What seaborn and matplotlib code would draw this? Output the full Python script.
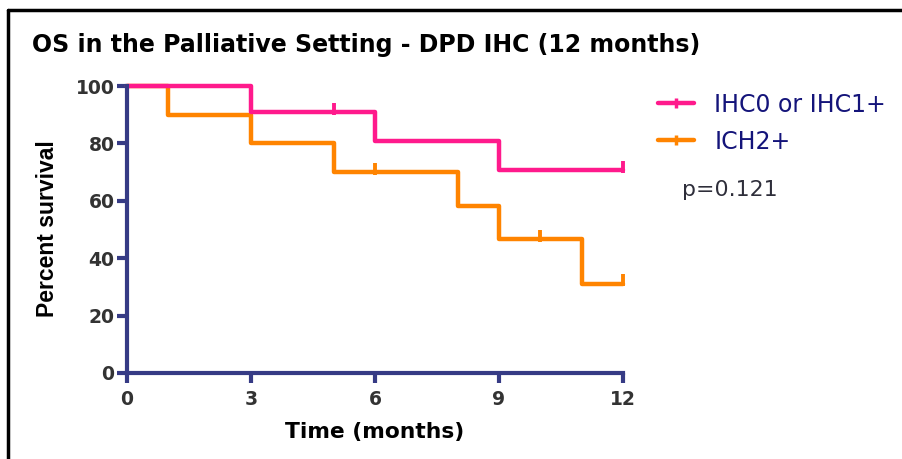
import matplotlib
matplotlib.use("Agg")
import matplotlib.pyplot as plt
from matplotlib.lines import Line2D
import seaborn as sns
import pandas as pd

sns.set_theme(style="white")
plt.rcParams['font.family'] = ['DejaVu Sans']

# Kaplan-Meier step data (time in months, percent survival)
g1_label = "IHC0 or IHC1+"
g1_time = [0, 3, 6, 9, 12]
g1_surv = [100, 90.9, 80.8, 70.7, 70.7]
g1_cens_time = [5, 12]
g1_cens_surv = [90.9, 70.7]

g2_label = "ICH2+"
g2_time = [0, 1, 3, 5, 8, 9, 11, 12]
g2_surv = [100, 90, 80, 70, 58.3, 46.7, 31.1, 31.1]
g2_cens_time = [6, 10, 12]
g2_cens_surv = [70, 46.7, 31.1]

x_ticks = [0, 3, 6, 9, 12]
y_ticks = [0, 20, 40, 60, 80, 100]
p_text = "p=0.121"

pink = "#FF1A8C"
orange = "#FF8400"
navy = "#363B85"

fig = plt.figure(figsize=(9.03, 4.59), dpi=100)
ax = fig.add_axes([127/903, 1-373/459, (623-127)/903, (373-86)/459])

df1 = pd.DataFrame({"t": g1_time, "s": g1_surv})
df2 = pd.DataFrame({"t": g2_time, "s": g2_surv})
sns.lineplot(data=df2, x="t", y="s", ax=ax, color=orange, lw=3.2,
             drawstyle="steps-post", clip_on=False, zorder=3)
sns.lineplot(data=df1, x="t", y="s", ax=ax, color=pink, lw=3.2,
             drawstyle="steps-post", clip_on=False, zorder=4)
ax.plot(g2_cens_time, [v + 1.2 for v in g2_cens_surv], ls="none", marker="|",
        ms=8, mew=2.8, color=orange, clip_on=False, zorder=3)
ax.plot(g1_cens_time, [v + 1.2 for v in g1_cens_surv], ls="none", marker="|",
        ms=8, mew=2.8, color=pink, clip_on=False, zorder=4)

ax.set_xlim(0, 12)
ax.set_ylim(0, 100)
ax.set_xticks(x_ticks)
ax.set_yticks(y_ticks)
for side in ["top", "right"]:
    ax.spines[side].set_visible(False)
for side in ["left", "bottom"]:
    ax.spines[side].set_color(navy)
    ax.spines[side].set_linewidth(3)
    ax.spines[side].set_zorder(5)
ax.tick_params(axis="both", direction="out", length=7, width=3, color=navy,
               labelsize=13.5, labelcolor="#333333", left=True, bottom=True)
ax.tick_params(axis="x", pad=5.5)
ax.tick_params(axis="y", pad=2)
for lab in ax.get_xticklabels() + ax.get_yticklabels():
    lab.set_fontweight("bold")
ax.set_xlabel("")
ax.set_ylabel("")
ax.grid(False)

fig.text(375/903, 1-432/459, "Time (months)", fontsize=15.7, fontweight="bold",
         color="black", ha="center", va="center")
fig.text(48/903, 1-229/459, "Percent survival", fontsize=16.5, fontweight="bold",
         color="black", ha="center", va="center", rotation=90,
         family=["Liberation Sans", "DejaVu Sans"])

fig.text(32/903, 1-45/459, "OS in the Palliative Setting - DPD IHC (12 months)",
         fontsize=17, fontweight="bold", color="black", va="center", ha="left")

handles = [Line2D([0], [0], color=pink, lw=3.2, marker="|", ms=7, mew=2.5),
           Line2D([0], [0], color=orange, lw=3.2, marker="|", ms=7, mew=2.5)]
leg = fig.legend(handles, [g1_label, g2_label], loc="upper left",
                 bbox_to_anchor=(653/903, 1-88/459), frameon=False,
                 fontsize=17, handlelength=1.55, handletextpad=0.85,
                 labelspacing=0.55, labelcolor="#14147A",
                 borderpad=0.2, borderaxespad=0)

fig.text(682/903, 1-190/459, p_text, fontsize=15.8, color="#2E2E3A",
         va="center", ha="left")

# Frame lines at left and top
fig.add_artist(Line2D([8/903, 8/903], [0, 1-10/459], color="black", lw=2.5,
                      transform=fig.transFigure))
fig.add_artist(Line2D([8/903, 1], [1-10/459, 1-10/459], color="black", lw=2.5,
                      transform=fig.transFigure))

fig.savefig("out.png", dpi=100)
